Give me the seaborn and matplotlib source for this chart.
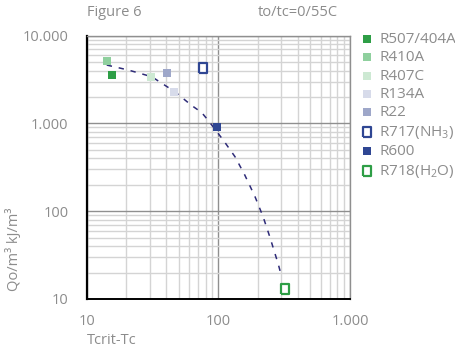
import matplotlib
matplotlib.use("Agg")
import matplotlib.pyplot as plt
import seaborn as sns
import numpy as np
from matplotlib.ticker import FixedLocator, LogLocator, NullFormatter, FixedFormatter

# ---- data ----
refrigerants = ["R507/404A", "R410A", "R407C", "R134A", "R22",
                "R717(NH$_{\\mathrm{3}}$)", "R600", "R718(H$_{\\mathrm{2}}$O)"]
tcrit_minus_tc = [15.7, 14.3, 30.9, 45.8, 40.5, 76.7, 97.0, 321.0]
qo_per_m3 = [3556, 5175, 3400, 2256, 3715, 4240, 900, 13.1]
face_colors = ["#2e9e46", "#8fd09e", "#cde9d3", "#d7dbea", "#9ea7c9", "white", "#2f4693", "white"]
edge_colors = ["#2e9e46", "#8fd09e", "#cde9d3", "#d7dbea", "#9ea7c9", "#2f4693", "#2f4693", "#2e9e46"]
hollow = [False, False, False, False, False, True, False, True]

trend_x = [14.2, 20.7, 31.2, 46.8, 62.7, 74.7, 83.8, 109, 134, 159, 190, 219, 246, 285, 303]
trend_y = [4620, 4055, 3400, 2290, 1600, 1330, 1080, 645, 416, 257, 146, 86, 51, 25, 17.8]

x_ticks = [10, 100, 1000]
x_ticklabels = ["10", "100", "1.000"]
y_ticks = [10, 100, 1000, 10000]
y_ticklabels = ["10", "100", "1.000", "10.000"]

# ---- style ----
sns.set_style("white")
plt.rcParams["font.family"] = ["Open Sans", "DejaVu Sans"]
plt.rcParams["mathtext.fontset"] = "custom"
plt.rcParams["mathtext.rm"] = "Open Sans"
plt.rcParams["mathtext.it"] = "Open Sans:italic"
plt.rcParams["mathtext.bf"] = "Open Sans:bold"
text_color = "#8c8c8c"

fig = plt.figure(figsize=(4.56, 3.54), dpi=100)
L, R, B, T = 86.7 / 456, 350 / 456, 1 - 299 / 354, 1 - 35.6 / 354
ax = fig.add_axes([L, B, R - L, T - B])
ax.set_xscale("log")
ax.set_yscale("log")
ax.set_xlim(10, 1000)
ax.set_ylim(10, 10000)

# grid
ax.set_axisbelow(True)
ax.xaxis.set_minor_locator(LogLocator(base=10, subs=np.arange(2, 10)))
ax.yaxis.set_minor_locator(LogLocator(base=10, subs=np.arange(2, 10)))
ax.xaxis.set_minor_formatter(NullFormatter())
ax.yaxis.set_minor_formatter(NullFormatter())
ax.grid(which="minor", color="#d4d4d4", linewidth=1.0)
ax.grid(which="major", color="#8f8f8f", linewidth=1.0)

# trend line
sns.lineplot(x=trend_x, y=trend_y, ax=ax, color="#2e2b78", linewidth=1.1,
             dashes=False, linestyle=(0, (3.5, 4.5)), sort=False, zorder=2)

tall_rect = [(-0.4, -0.5), (0.4, -0.5), (0.4, 0.5), (-0.4, 0.5), (-0.4, -0.5)]
for name, xv, yv, fc, ec, h in zip(refrigerants, tcrit_minus_tc, qo_per_m3,
                                   face_colors, edge_colors, hollow):
    if h:
        sns.scatterplot(x=[xv], y=[yv], ax=ax, marker=tall_rect, s=62,
                        facecolor=fc, edgecolor=ec, linewidth=1.6, label=name, zorder=3)
    else:
        sns.scatterplot(x=[xv], y=[yv], ax=ax, marker="s", s=30,
                        color=fc, edgecolor=ec, linewidth=0, label=name, zorder=3)

ax.xaxis.set_major_locator(FixedLocator(x_ticks))
ax.xaxis.set_major_formatter(FixedFormatter(x_ticklabels))
ax.yaxis.set_major_locator(FixedLocator(y_ticks))
ax.yaxis.set_major_formatter(FixedFormatter(y_ticklabels))
ax.tick_params(axis="both", which="both", length=0, labelsize=10.5, labelcolor=text_color)
ax.tick_params(axis="x", pad=11)
ax.tick_params(axis="y", pad=13)

for s in ["top", "right"]:
    ax.spines[s].set_color("#8f8f8f")
    ax.spines[s].set_linewidth(1.0)
ax.spines["left"].set_color("black")
ax.spines["left"].set_linewidth(1.6)
ax.spines["bottom"].set_color("black")
ax.spines["bottom"].set_linewidth(1.4)

ax.set_xlabel("")
ax.set_ylabel("Qo/m³ kJ/m³", color=text_color, fontsize=10.5)
ax.yaxis.set_label_coords(-0.245, 0.19)

fig.text(87 / 456, 1 - 341 / 354, "Tcrit-Tc", ha="left", va="center",
         color=text_color, fontsize=10.5)
fig.text(87 / 456, 1 - 13 / 354, "Figure 6", ha="left", va="center",
         color=text_color, fontsize=10.5)
fig.text(258 / 456, 1 - 13 / 354, "to/tc=0/55C", ha="left", va="center",
         color=text_color, fontsize=10.5)

leg = ax.legend(loc="upper left", bbox_to_anchor=(361 / 456, 1 - 32 / 354),
                bbox_transform=fig.transFigure, frameon=False, fontsize=11,
                handlelength=0.8, handletextpad=0.4, labelspacing=0.22,
                borderaxespad=0, borderpad=0)
for t in leg.get_texts():
    t.set_color(text_color)

fig.savefig("out.png", dpi=100)
